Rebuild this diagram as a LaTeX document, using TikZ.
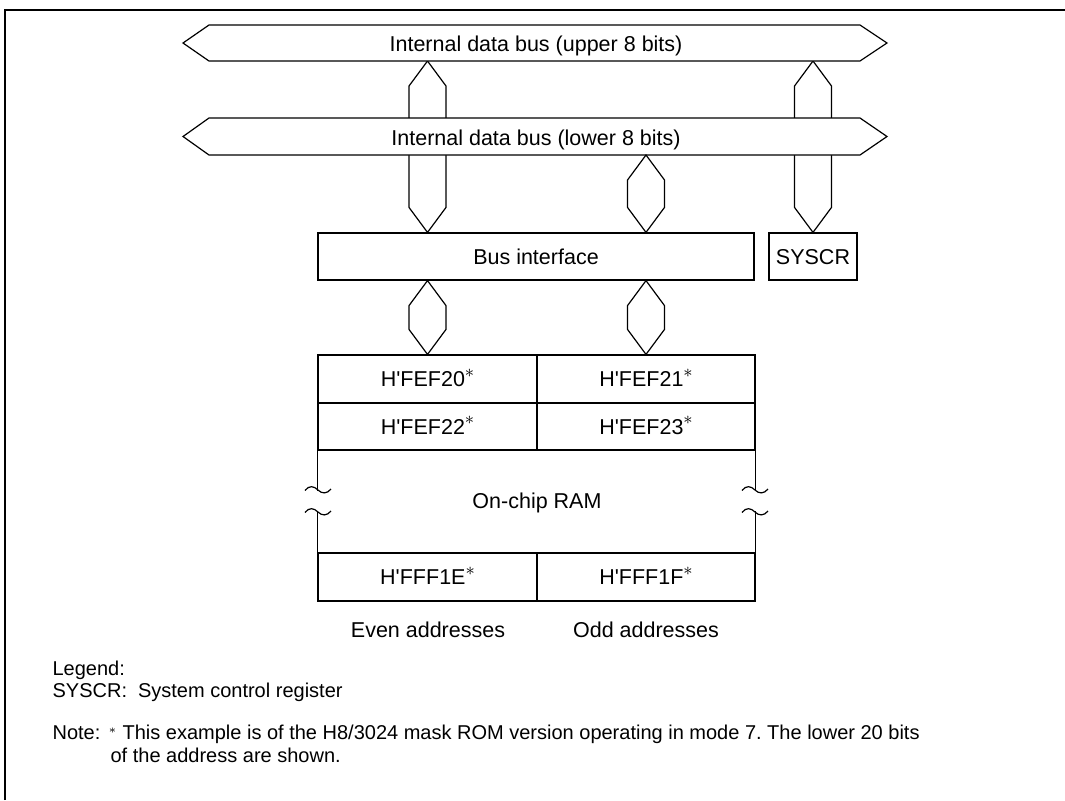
\documentclass[tikz,border=0pt]{standalone}
\usepackage{fontspec}
\setmainfont{Liberation Sans}
\usetikzlibrary{calc}
\frenchspacing
\newcommand\cellast{\raisebox{4.8pt}{\fontsize{9.5}{9.5}\selectfont$\ast$}}
\newcommand\noteast{\raisebox{3pt}{\fontsize{6.5}{6.5}\selectfont$\ast$}}
\newcommand\hq{H\textquotesingle}
\newcommand\busconn[2]{\draw[conn] (#1) -- ($(#1)+(18.5,25)$) -- ($(#2)+(18.5,-25)$) -- (#2) -- ($(#2)+(-18.5,-25)$) -- ($(#1)+(-18.5,25)$) -- cycle;}
\newcommand\brkmark[2]{\draw[shift={(#1,#2)}] (-13,0.5) .. controls (-9,-5) and (-4,-4) .. (0,0) .. controls (4,4) and (9,4) .. (13,-1);}
\begin{document}
\begin{tikzpicture}[x=0.5pt,y=-0.5pt,line width=0.6pt,
 dfont/.style={font=\fontsize{10.75}{13}\selectfont},
 box/.style={draw, fill=white, inner sep=0pt, text height=7.7pt, text depth=0pt, dfont},
 txt/.style={inner sep=0pt, text height=7.7pt, text depth=0pt, dfont},
 leg/.style={inner sep=0pt, anchor=base west, font=\fontsize{10}{12}\selectfont},
 conn/.style={draw, fill=white},
 bus/.style={draw, fill=white}]
\useasboundingbox (0,0) rectangle (1065,800);
\draw[line width=1pt] (5,800) -- (5,10) -- (1065,10);

% blocks
\node[box, minimum width=218pt, minimum height=23.5pt] (bi) at (536,256.5) {Bus interface};
\node[box, minimum width=44pt, minimum height=23.5pt] (sys) at (813,256.5) {SYSCR};
\node[box, minimum width=109.5pt, minimum height=24pt] (c1) at (427.5,379) {\hq FEF20\cellast};
\node[box, minimum width=109pt, minimum height=24pt] (c2) at (646,379) {\hq FEF21\cellast};
\node[box, minimum width=109.5pt, minimum height=23.5pt] (c3) at (427.5,426.5) {\hq FEF22\cellast};
\node[box, minimum width=109pt, minimum height=23.5pt] (c4) at (646,426.5) {\hq FEF23\cellast};
\node[box, minimum width=109.5pt, minimum height=24pt] (c5) at (427.5,577) {\hq FFF1E\cellast};
\node[box, minimum width=109pt, minimum height=24pt] (c6) at (646,577) {\hq FFF1F\cellast};

% RAM body
\node[txt] (ram) at (537,500.3) {On-chip RAM};
\draw (c3.south west) -- ++(0,40);
\draw (c5.north west) -- ++(0,-41);
\draw (c4.south east) -- ++(0,40);
\draw (c6.north east) -- ++(0,-41);
\brkmark{318}{490}
\brkmark{318}{512}
\brkmark{755}{490}
\brkmark{755}{512}

\node[txt] (ev) at (428,629.3) {Even addresses};
\node[txt] (od) at (646,629.3) {Odd addresses};

% upper bus
\coordinate (ubS) at (535,61);
\coordinate (lbS) at (535,155);
\coordinate (k1a) at (c1.north |- ubS);
\coordinate (k1b) at (c1.north |- bi.north);
\coordinate (k2a) at (sys.north |- ubS);
\busconn{k1a}{k1b}
\busconn{k2a}{sys.north}
\draw[bus] (183,43) -- (209,25) -- (860,25) -- (887,43) -- (860,61) -- (209,61) -- cycle;
\node[txt] (ubt) at (536,43.8) {Internal data bus (upper 8 bits)};
% lower bus
\draw[bus] (183,136.5) -- (209,118) -- (860,118) -- (887,136.5) -- (860,155) -- (209,155) -- cycle;
\node[txt] (lbt) at (536,137.3) {Internal data bus (lower 8 bits)};

\coordinate (k3a) at (c2.north |- lbS);
\coordinate (k3b) at (c2.north |- bi.north);
\busconn{k3a}{k3b}
\coordinate (k4a) at (c1.north |- bi.south);
\busconn{k4a}{c1.north}
\coordinate (k5a) at (c2.north |- bi.south);
\busconn{k5a}{c2.north}

% legend
\node[leg] (lg) at (52,675) {Legend:};
\node[leg] (ls) at (52,697) {SYSCR:\hspace{0.55em}System control register};
\node[leg] (nt) at (52,739) {Note:};
\node[leg] (na) at (108,739) {\noteast};
\node[leg] (n1) at (122,739) {This example is of the H8/3024 mask ROM version operating in mode 7. The lower 20 bits};
\node[leg] (n2) at (110,762) {of the address are shown.};
\end{tikzpicture}
\end{document}
